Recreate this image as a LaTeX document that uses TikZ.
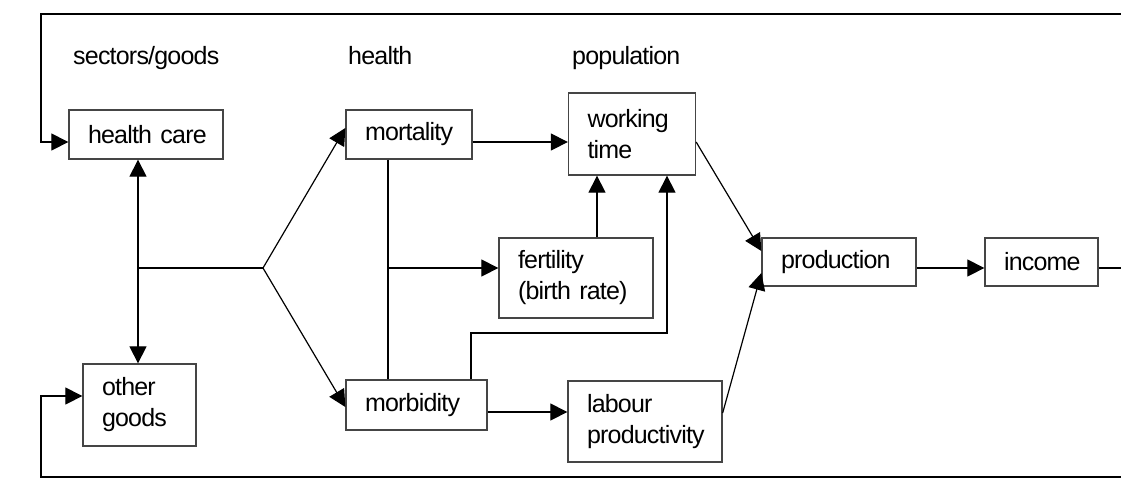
\documentclass[tikz,border=0pt]{standalone}
\usepackage{fontspec}
\setmainfont[LetterSpace=-3.2]{Liberation Sans}
\usetikzlibrary{arrows.meta,calc}
\definecolor{boxgray}{HTML}{454545}
\newcommand{\ind}{\hspace*{19pt}}
\begin{document}
\begin{tikzpicture}[x=1pt,y=-1pt,
  every node/.style={font=\fontsize{25}{31}\selectfont},
  bx/.style 2 args={draw=boxgray, line width=1.3pt, align=left, inner xsep=0pt, inner ysep=0pt,
     minimum height=#2, text width=#1},
  lbl/.style={inner sep=0pt},
  line/.style={draw=black, line width=1.2pt},
  arr/.style={line, -{Triangle[length=17pt,width=17pt]}}]
\useasboundingbox (0,0) rectangle (1121,483);
% coordinates
\coordinate (TL) at (41,14);
\coordinate (TR) at (1121,14);
\coordinate (BL) at (41,477);
\coordinate (BR) at (1121,477);
\coordinate (split) at (138,268);
\coordinate (hub) at (263,268);
\coordinate (fj) at (388,268);
\coordinate (ft) at (597,0);
\coordinate (mt) at (471,333);
\coordinate (bend) at (667,333);
\coordinate (RE) at (1121,268);
% labels
\node[lbl, anchor=base west] (l1) at (73,64) {sectors/goods};
\node[lbl, anchor=base west] (l2) at (348,64) {health};
\node[lbl, anchor=base west] (l3) at (572,64) {population};
% boxes
\node[bx={154pt}{49}] (hc) at (146,134.5) {\ind health care};
\node[bx={113pt}{82}] (og) at (139.5,405) {\ind other\\\ind goods};
\node[bx={126pt}{49}] (mort) at (409,134.5) {\ind mortality};
\node[bx={141pt}{50}] (morb) at (416.5,405) {\ind morbidity};
\node[bx={127pt}{82}] (wt) at (632,134) {\ind working\\\ind time};
\node[bx={154pt}{80}] (fert) at (576,278) {\ind fertility\\\ind (birth rate)};
\node[bx={154pt}{81}] (lab) at (645,421.5) {\ind labour\\\ind productivity};
\node[bx={154pt}{48}] (prod) at (839,262) {\ind production};
\node[bx={113pt}{48}] (inc) at (1041.5,262) {\ind income};
% connectors
\draw[arr] (TR) -- (TL) |- ([yshift=-7.5pt]hc.west);
\draw[arr] (BR) -- (BL) |- ([yshift=9pt]og.west);
\draw[arr] (split) -- (split |- hc.south);
\draw[arr] (split) -- (split |- og.north);
\draw[line] (split) -- (hub);
\draw[arr] (hub) -- ([yshift=6.5pt]mort.west);
\draw[arr] (hub) -- ([yshift=-2pt]morb.west);
\draw[line] (fj |- mort.south) -- (fj |- morb.north);
\draw[arr] (fj) -- (fert.west |- fj);
\draw[arr] ([yshift=-7.5pt]mort.east) -- ([yshift=-8pt]wt.west);
\draw[arr] (ft |- fert.north) -- (ft |- wt.south);
\draw[arr] (mt |- morb.north) -- (mt) -- (bend) -- (bend |- wt.south);
\draw[arr] ([yshift=-7pt]morb.east) -- ([yshift=9.5pt]lab.west);
\draw[arr] ([yshift=-8pt]wt.east) -- ([yshift=11pt]prod.west);
\draw[arr] ([yshift=8.5pt]lab.east) -- ([yshift=-11pt]prod.west);
\draw[arr] (prod.east |- hub) -- (inc.west |- hub);
\draw[line] (inc.east |- hub) -- (RE);
\end{tikzpicture}
\end{document}
